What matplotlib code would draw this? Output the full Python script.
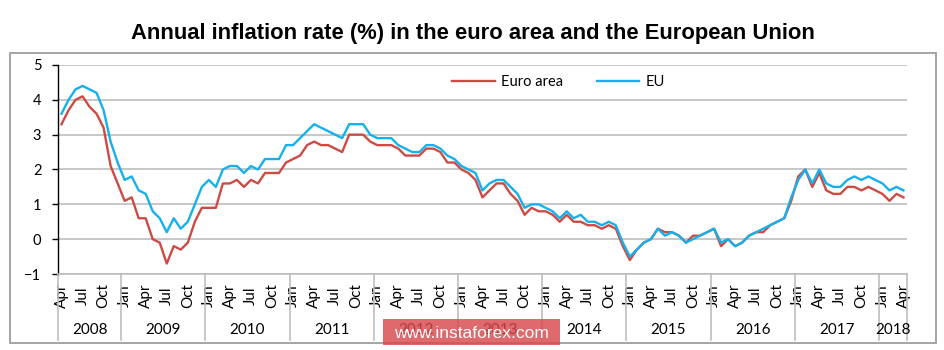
import matplotlib
matplotlib.use("Agg")
import matplotlib.pyplot as plt
from matplotlib.patches import Rectangle
import matplotlib.transforms as mtransforms

# ---- data (monthly, Apr 2008 .. Apr 2018) ----
euro_area = [
    3.3, 3.7, 4.0, 4.1, 3.8, 3.6, 3.2, 2.1, 1.6,
    1.1, 1.2, 0.6, 0.6, 0.0, -0.1, -0.7, -0.2, -0.3, -0.1, 0.5, 0.9,
    0.9, 0.9, 1.6, 1.6, 1.7, 1.5, 1.7, 1.6, 1.9, 1.9, 1.9, 2.2,
    2.3, 2.4, 2.7, 2.8, 2.7, 2.7, 2.6, 2.5, 3.0, 3.0, 3.0, 2.8,
    2.7, 2.7, 2.7, 2.6, 2.4, 2.4, 2.4, 2.6, 2.6, 2.5, 2.2, 2.2,
    2.0, 1.9, 1.7, 1.2, 1.4, 1.6, 1.6, 1.3, 1.1, 0.7, 0.9, 0.8,
    0.8, 0.7, 0.5, 0.7, 0.5, 0.5, 0.4, 0.4, 0.3, 0.4, 0.3, -0.2,
    -0.6, -0.3, -0.1, 0.0, 0.3, 0.2, 0.2, 0.1, -0.1, 0.1, 0.1, 0.2,
    0.3, -0.2, 0.0, -0.2, -0.1, 0.1, 0.2, 0.2, 0.4, 0.5, 0.6, 1.1,
    1.8, 2.0, 1.5, 1.9, 1.4, 1.3, 1.3, 1.5, 1.5, 1.4, 1.5, 1.4,
    1.3, 1.1, 1.3, 1.2,
]
eu = [
    3.6, 4.0, 4.3, 4.4, 4.3, 4.2, 3.7, 2.8, 2.2,
    1.7, 1.8, 1.4, 1.3, 0.8, 0.6, 0.2, 0.6, 0.3, 0.5, 1.0, 1.5,
    1.7, 1.5, 2.0, 2.1, 2.1, 1.9, 2.1, 2.0, 2.3, 2.3, 2.3, 2.7,
    2.7, 2.9, 3.1, 3.3, 3.2, 3.1, 3.0, 2.9, 3.3, 3.3, 3.3, 3.0,
    2.9, 2.9, 2.9, 2.7, 2.6, 2.5, 2.5, 2.7, 2.7, 2.6, 2.4, 2.3,
    2.1, 2.0, 1.9, 1.4, 1.6, 1.7, 1.7, 1.5, 1.3, 0.9, 1.0, 1.0,
    0.9, 0.8, 0.6, 0.8, 0.6, 0.7, 0.5, 0.5, 0.4, 0.5, 0.4, -0.1,
    -0.5, -0.3, -0.1, 0.0, 0.3, 0.1, 0.2, 0.1, -0.1, 0.0, 0.1, 0.2,
    0.3, -0.1, 0.0, -0.2, -0.1, 0.1, 0.2, 0.3, 0.4, 0.5, 0.6, 1.2,
    1.7, 2.0, 1.6, 2.0, 1.6, 1.5, 1.5, 1.7, 1.8, 1.7, 1.8, 1.7,
    1.6, 1.4, 1.5, 1.4,
]
quarter_labels = ["Apr", "Jul", "Oct", "Jan"]
years = ["2008", "2009", "2010", "2011", "2012", "2013",
         "2014", "2015", "2016", "2017", "2018"]
months_in_year = [9, 12, 12, 12, 12, 12, 12, 12, 12, 12, 4]
y_ticks = [-1, 0, 1, 2, 3, 4, 5]

RED = "#CD4B45"
BLUE = "#16B1EA"
GRID = "#BDBDBD"
FONT = ["Lato", "DejaVu Sans"]

W, H = 944, 350
fig = plt.figure(figsize=(W / 100, H / 100), dpi=100)
fig.patch.set_facecolor("white")

# outer chart border
fig.patches.append(Rectangle((10 / W, 1 - 343 / H), 926 / W, 290 / H,
                             transform=fig.transFigure, fill=False,
                             edgecolor="#9E9E9E", linewidth=1.3))

ax = fig.add_axes([58 / W, 1 - 274 / H, 849 / W, 209 / H])
n = len(euro_area)
x = list(range(n))

ax.plot(x, euro_area, color=RED, lw=1.7, label="Euro area", zorder=3)
ax.plot(x, eu, color=BLUE, lw=1.7, label="EU", zorder=4)

ax.set_xlim(-0.5, n - 0.5)
ax.set_ylim(-1, 5)
ax.set_yticks(y_ticks)
ax.yaxis.grid(True, color=GRID, lw=1.2)
ax.set_axisbelow(True)
for s in ["top", "right"]:
    ax.spines[s].set_visible(False)
ax.spines["left"].set_color("black")
ax.spines["left"].set_linewidth(1.0)
ax.spines["bottom"].set_color(GRID)
ax.spines["bottom"].set_linewidth(1.2)
ax.tick_params(axis="y", direction="out", length=4, width=1.0, color="black",
               pad=8, labelsize=10.5)
for lab in ax.get_yticklabels():
    lab.set_fontfamily(FONT)

# month tick labels every quarter
xt = list(range(0, n, 3))
ax.set_xticks(xt)
ax.set_xticklabels([quarter_labels[i % 4] for i in range(len(xt))],
                   rotation=90, va="center", ha="center", fontsize=11,
                   family=FONT)
ax.tick_params(axis="x", length=0, pad=15.5)

# year separators and year labels below the axis
trans = mtransforms.blended_transform_factory(ax.transData, ax.transAxes)
edges = [-0.5]
for m in months_in_year:
    edges.append(edges[-1] + m)
for e in edges:
    ax.plot([e, e], [0, -0.318], transform=trans, color=GRID, lw=1.2,
            clip_on=False)
for i, yr in enumerate(years):
    cx = (edges[i] + edges[i + 1]) / 2
    ax.text(cx, -0.268, yr, transform=trans, ha="center", va="center",
            fontsize=11, family=FONT)

# legend
leg = ax.legend(loc="center left", bbox_to_anchor=(0.449, 0.92), ncol=2,
                frameon=False, handlelength=2.9, handletextpad=0.45,
                columnspacing=2.3, prop={"family": FONT, "size": 10.5})

# title
fig.text(473 / W, 1 - 33 / H,
         "Annual inflation rate (%) in the euro area and the European Union",
         ha="center", va="center", fontsize=15.8, fontweight="bold",
         family=["Liberation Sans", "DejaVu Sans"])

# watermark
fig.patches.append(Rectangle((383 / W, 1 - 345 / H), 177 / W, 26 / H,
                             transform=fig.transFigure, facecolor="#D9484C",
                             alpha=0.82, edgecolor="none", zorder=10))
fig.text(471 / W, 1 - 333 / H, "www.instaforex.com", ha="center",
         va="center", color="white", fontsize=12.5,
         family=["Liberation Sans", "DejaVu Sans"], zorder=11)

fig.savefig("out.png", dpi=100)
